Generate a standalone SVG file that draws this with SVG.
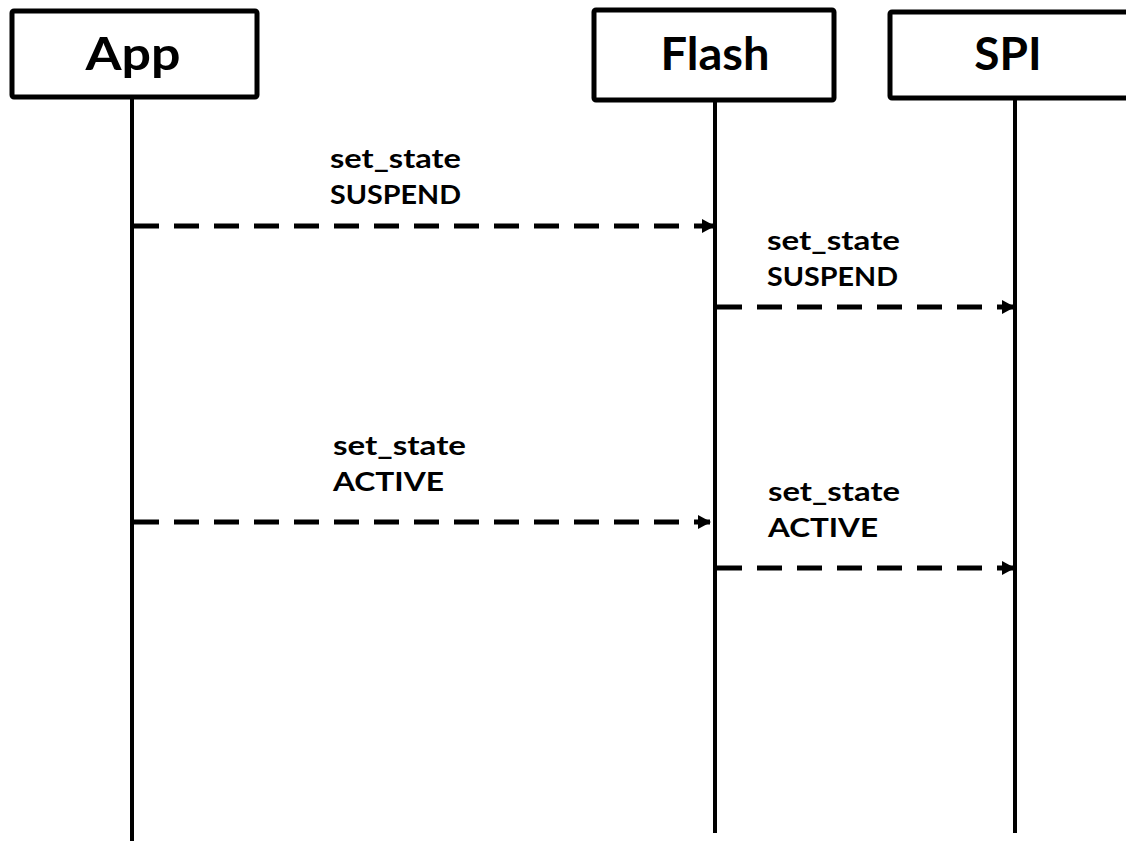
<svg xmlns="http://www.w3.org/2000/svg" width="1126" height="841" viewBox="0 0 1126 841">
<style>
.box{fill:#fff;stroke:#000;stroke-width:5}
.title{font-family:"Lato","Liberation Sans",sans-serif;font-weight:bold;font-size:46px;text-anchor:middle;fill:#000}
.life{stroke:#000;stroke-width:4}
.msg{stroke:#000;stroke-width:5;stroke-dasharray:25 15;fill:none}
.lbl{font-family:"Lato","Liberation Sans",sans-serif;font-weight:bold;font-size:26px;fill:#000}
</style>
<defs>
<marker id="ah" markerWidth="14" markerHeight="14" refX="12" refY="7" orient="auto" markerUnits="userSpaceOnUse">
<path d="M0,0 L13,7 L0,14 Z" fill="#000"/>
</marker>
</defs>
<g id="lifelines">
<line class="life" x1="132" y1="97" x2="132" y2="841"/>
<line class="life" x1="715" y1="99" x2="715" y2="833"/>
<line class="life" x1="1015" y1="99" x2="1015" y2="833"/>
</g>
<g id="App"><rect class="box" x="12" y="11" width="245" height="86" rx="2"/><text class="title" x="133" y="70" textLength="95" lengthAdjust="spacingAndGlyphs">App</text></g>
<g id="Flash"><rect class="box" x="594" y="10" width="240" height="90" rx="2"/><text class="title" x="715" y="70" textLength="109" lengthAdjust="spacingAndGlyphs">Flash</text></g>
<g id="SPI"><rect class="box" x="890" y="12" width="250" height="86" rx="2"/><text class="title" x="1008" y="70">SPI</text></g>
<g id="connectors">
<line class="msg" x1="134" y1="226" x2="714" y2="226" marker-end="url(#ah)"/>
<line class="msg" x1="717" y1="307" x2="1014" y2="307" marker-end="url(#ah)"/>
<line class="msg" x1="134" y1="522" x2="710" y2="522" marker-end="url(#ah)"/>
<line class="msg" x1="717" y1="568" x2="1014" y2="568" marker-end="url(#ah)"/>
</g>
<g id="labels">
<text class="lbl" x="330" y="168" textLength="131" lengthAdjust="spacingAndGlyphs">set_state</text>
<text class="lbl" x="330" y="204" textLength="131" lengthAdjust="spacingAndGlyphs">SUSPEND</text>
<text class="lbl" x="767" y="250" textLength="133" lengthAdjust="spacingAndGlyphs">set_state</text>
<text class="lbl" x="767" y="286" textLength="131" lengthAdjust="spacingAndGlyphs">SUSPEND</text>
<text class="lbl" x="333" y="455" textLength="133" lengthAdjust="spacingAndGlyphs">set_state</text>
<text class="lbl" x="333" y="491" textLength="111" lengthAdjust="spacingAndGlyphs">ACTIVE</text>
<text class="lbl" x="768" y="501" textLength="132" lengthAdjust="spacingAndGlyphs">set_state</text>
<text class="lbl" x="768" y="537" textLength="110" lengthAdjust="spacingAndGlyphs">ACTIVE</text>
</g>
</svg>
